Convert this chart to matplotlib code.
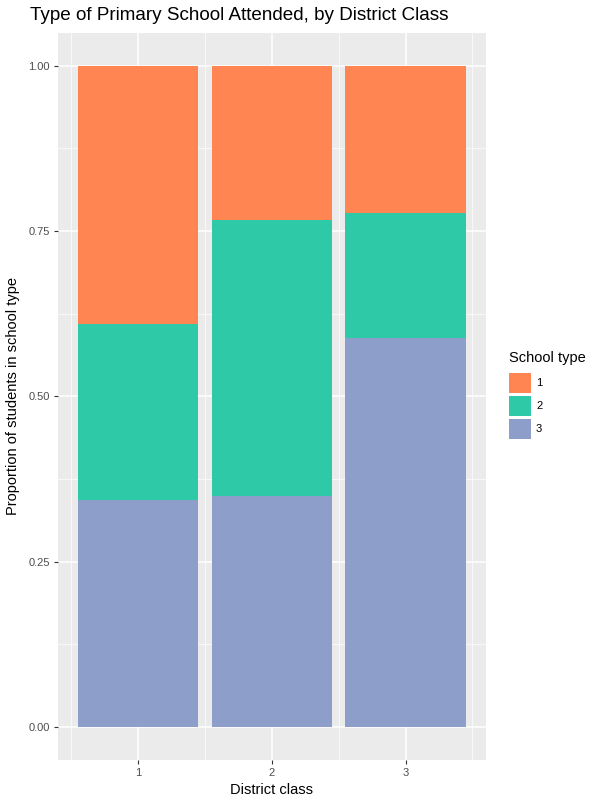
import matplotlib
matplotlib.use("Agg")
import matplotlib.pyplot as plt
from matplotlib.patches import Rectangle

# proportions of students by school type, per district class
district_class = [1, 2, 3]
school_types = ["1", "2", "3"]
type1 = [0.391, 0.233, 0.222]
type2 = [0.265, 0.418, 0.190]
type3 = [0.344, 0.349, 0.588]
y_ticks = [0.00, 0.25, 0.50, 0.75, 1.00]

colors = {"1": "#FF8652", "2": "#2EC9A7", "3": "#8D9ECB"}

plt.rcParams["font.family"] = ["Liberation Sans", "DejaVu Sans"]

fig = plt.figure(figsize=(6, 8), dpi=100)
ax = fig.add_axes([0.0967, 0.05, 0.713, 0.909])
ax.set_facecolor("#EBEBEB")

# stack: type 3 at the bottom, then 2, then 1 on top
bottom = [0.0, 0.0, 0.0]
for name, vals in [("3", type3), ("2", type2), ("1", type1)]:
    ax.bar(district_class, vals, width=0.9, bottom=bottom,
           color=colors[name], zorder=3, linewidth=0)
    bottom = [b + v for b, v in zip(bottom, vals)]

ax.set_xlim(0.4, 3.6)
ax.set_ylim(-0.05, 1.05)
ax.set_xticks(district_class)
ax.set_xticklabels([str(c) for c in district_class])
ax.set_yticks(y_ticks)
ax.set_yticklabels([f"{t:.2f}" for t in y_ticks])
ax.set_xticks([0.5, 1.5, 2.5, 3.5], minor=True)
ax.set_yticks([0.125, 0.375, 0.625, 0.875], minor=True)

ax.grid(which="major", color="white", linewidth=1.1, zorder=0)
ax.grid(which="minor", color="white", linewidth=0.5, zorder=0)
ax.set_axisbelow(True)
for s in ax.spines.values():
    s.set_visible(False)

ax.tick_params(which="major", length=3, color="#333333", width=0.8,
               labelsize=8, labelcolor="#4D4D4D", pad=3)
ax.tick_params(which="minor", length=0)

ax.set_xlabel("District class", fontsize=10.5, labelpad=3)
ax.set_ylabel("Proportion of students in school type", fontsize=10.5, labelpad=6)

fig.text(30 / 600, 1 - 15 / 800, "Type of Primary School Attended, by District Class",
         fontsize=13.6, va="center", ha="left")

# legend drawn by hand to match ggplot's guide
fig.text(509 / 600, 1 - 358 / 800, "School type", fontsize=10.5, va="center", ha="left")
for i, name in enumerate(school_types):
    y0 = 373 + i * 23
    fig.add_artist(Rectangle((509 / 600, 1 - (y0 + 20) / 800), 22 / 600, 20 / 800,
                             transform=fig.transFigure, color=colors[name], linewidth=0))
    fig.text(536 / 600, 1 - (y0 + 10) / 800, name, fontsize=8, va="center", ha="left")

fig.savefig("out.png", dpi=100)
